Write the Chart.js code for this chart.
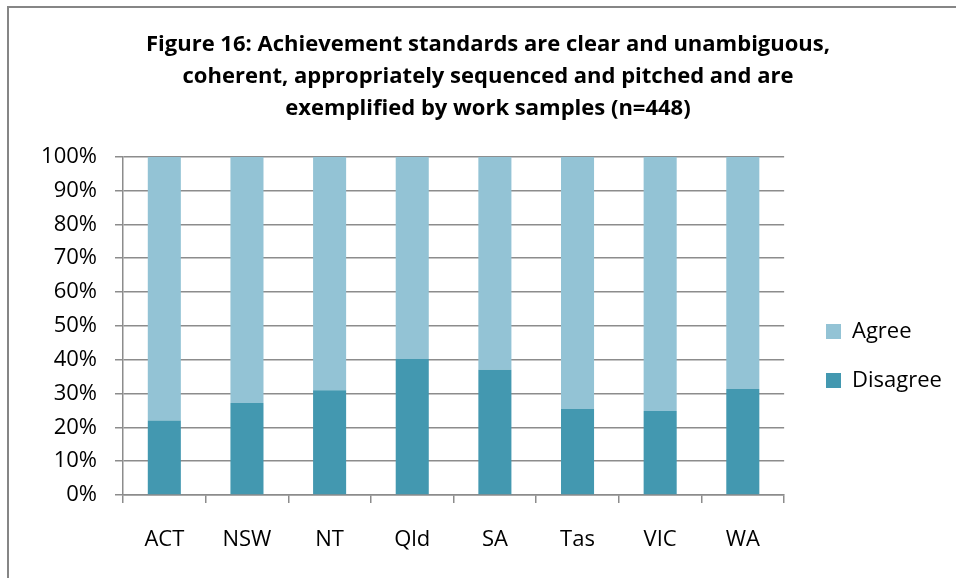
<!DOCTYPE html>
<html>
<head>
<meta charset="utf-8">
<script src="https://cdn.jsdelivr.net/npm/chart.js@4/dist/chart.umd.min.js"></script>
<style>
  html, body { margin: 0; padding: 0; background: #ffffff; }
  #wrap { position: relative; width: 956px; height: 578px; overflow: hidden; }
  #frame { position: absolute; left: 7px; top: 6px; width: 1000px; height: 700px;
           border-left: 2px solid #868686; border-top: 2px solid #868686; }
  canvas { position: absolute; left: 0; top: 0; }
</style>
</head>
<body>
<div id="wrap">
  <div id="frame"></div>
  <canvas id="c" width="956" height="578"></canvas>
</div>
<script>
const categories = ["ACT", "NSW", "NT", "Qld", "SA", "Tas", "VIC", "WA"];
const disagree = [22, 27.2, 31, 40.2, 37, 25.4, 24.8, 31.3];
const agree = [78, 72.8, 69, 59.8, 63, 74.6, 75.2, 68.7];
const yTicks = [0, 10, 20, 30, 40, 50, 60, 70, 80, 90, 100];
const titleLines = [
  "Figure 16: Achievement standards are clear and unambiguous,",
  "coherent, appropriately sequenced and pitched and are",
  "exemplified by work samples (n=448)"
];

const FONT = "'Open Sans', sans-serif";
const GRID = "#8c8c8c";

const legendShift = {
  id: 'legendShift',
  afterLayout(chart) {
    const lg = chart.legend;
    if (!lg) return;
    const dx = 826 - 27 - lg.left;
    const dy = 67;
    lg.left += dx; lg.right += dx;
    lg.top += dy; lg.bottom += dy;
  }
};

new Chart(document.getElementById('c'), {
  type: 'bar',
  data: {
    labels: categories,
    datasets: [
      { label: 'Disagree', data: disagree, backgroundColor: '#4398B0', borderWidth: 0,
        barPercentage: 0.4, categoryPercentage: 1 },
      { label: 'Agree', data: agree, backgroundColor: '#93C3D5', borderWidth: 0,
        barPercentage: 0.4, categoryPercentage: 1 }
    ]
  },
  options: {
    responsive: false,
    animation: false,
    layout: { padding: { left: 39, right: 19, top: 0, bottom: 0 } },
    plugins: {
      tooltip: { enabled: false },
      title: {
        display: true,
        text: titleLines,
        color: '#000000',
        font: { family: FONT, size: 22, weight: 'bold', lineHeight: 1.45 },
        padding: { top: 29, bottom: 32 }
      },
      legend: {
        display: true,
        position: 'right',
        reverse: true,
        labels: {
          color: '#000000',
          font: { family: FONT, size: 22 },
          boxWidth: 15,
          boxHeight: 15,
          padding: 27
        }
      }
    },
    scales: {
      x: {
        stacked: true,
        grid: { display: true, drawOnChartArea: false, drawTicks: true, tickLength: 8,
                color: GRID, lineWidth: 1.5, offset: true },
        border: { display: true, color: GRID, width: 1.5 },
        ticks: { color: '#000000', font: { family: FONT, size: 22 }, padding: 24 },
        afterFit(s) { s.height = 83; }
      },
      y: {
        stacked: true,
        min: 0, max: 100,
        afterBuildTicks(s) { s.ticks = yTicks.map(v => ({ value: v })); },
        grid: { display: true, drawTicks: true, tickLength: 8, color: GRID, lineWidth: 1.5 },
        border: { display: true, color: GRID, width: 1.5 },
        ticks: { color: '#000000', font: { family: FONT, size: 22 }, padding: 18,
                 callback: v => v + '%' },
        afterFit(s) { s.width = 84; }
      }
    }
  },
  plugins: [legendShift]
});
</script>
</body>
</html>
